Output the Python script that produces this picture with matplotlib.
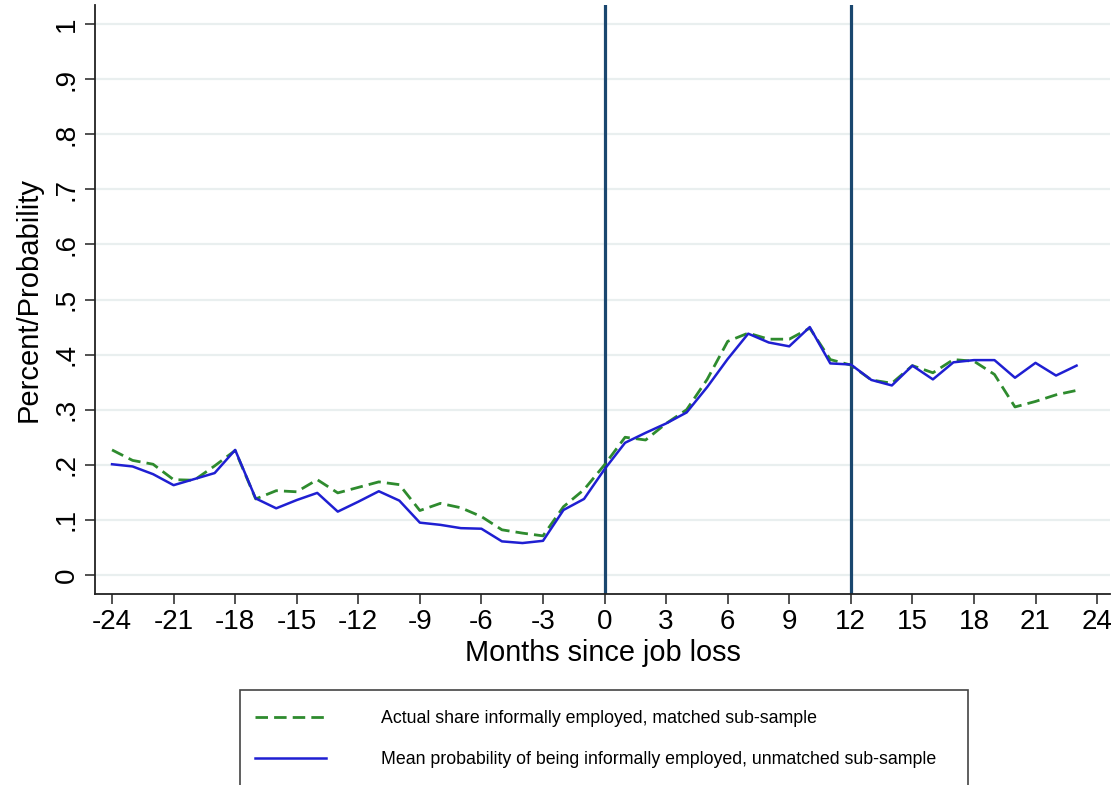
import matplotlib
matplotlib.use('Agg')
import matplotlib.pyplot as plt
from matplotlib.patches import Rectangle

plt.rcParams['font.family'] = ['Liberation Sans', 'DejaVu Sans']

months = list(range(-24, 24))

# actual share informally employed, matched sub-sample
actual_share = [0.227, 0.208, 0.201, 0.173, 0.172, 0.198, 0.226, 0.138,
                0.153, 0.151, 0.173, 0.149, 0.159, 0.169, 0.164, 0.117,
                0.130, 0.122, 0.106, 0.082, 0.076, 0.071, 0.124, 0.155,
                0.200, 0.250, 0.245, 0.275, 0.300, 0.355, 0.424, 0.439,
                0.428, 0.428, 0.448, 0.391, 0.381, 0.354, 0.348, 0.380,
                0.367, 0.391, 0.388, 0.364, 0.305, 0.315, 0.327, 0.335]

# mean predicted probability, unmatched sub-sample
mean_prob = [0.201, 0.197, 0.183, 0.163, 0.174, 0.185, 0.227, 0.139,
             0.121, 0.136, 0.149, 0.115, 0.133, 0.152, 0.135, 0.095,
             0.091, 0.085, 0.084, 0.061, 0.058, 0.062, 0.118, 0.138,
             0.192, 0.240, 0.258, 0.275, 0.295, 0.341, 0.392, 0.438,
             0.422, 0.415, 0.450, 0.384, 0.382, 0.354, 0.344, 0.380,
             0.355, 0.386, 0.390, 0.390, 0.358, 0.385, 0.362, 0.380]

vlines = [0, 12]
xticks = list(range(-24, 25, 3))
yticks = [i / 10 for i in range(11)]
ylabels = ['0', '.1', '.2', '.3', '.4', '.5', '.6', '.7', '.8', '.9', '1']

label_green = 'Actual share informally employed, matched sub-sample'
label_blue = 'Mean probability of being informally employed, unmatched sub-sample'

fig = plt.figure(figsize=(11.17, 7.85), dpi=100)
ax = fig.add_axes([95 / 1117, 1 - 594 / 785, (1110 - 95) / 1117, (594 - 5) / 785])

for y in yticks:
    ax.axhline(y, color='#e9efef', lw=1.6, zorder=0)
for v in vlines:
    ax.axvline(v, color='#1a476f', lw=2.3, zorder=1)

g, = ax.plot(months, actual_share, color='#2e8b2e', lw=2.0, dashes=(4.5, 2.2), zorder=2)
b, = ax.plot(months, mean_prob, color='#1f1fd2', lw=1.8, zorder=3)

ax.set_xlim(-24.83, 24.63)
ax.set_ylim(-0.0345, 1.0345)

ax.set_xticks(xticks)
ax.set_xticklabels([str(t) for t in xticks])
ax.set_yticks(yticks)
ax.set_yticklabels(ylabels, rotation=90, va='center')
ax.tick_params(axis='both', labelsize=20, length=7, width=1.2, color='#333333', pad=4)

for s in ['top', 'right']:
    ax.spines[s].set_visible(False)
for s in ['left', 'bottom']:
    ax.spines[s].set_linewidth(1.3)
    ax.spines[s].set_color('#222222')

ax.set_xlabel('Months since job loss', fontsize=20.8, labelpad=3)
ax.set_ylabel('Percent/Probability', fontsize=21, labelpad=8)

fig.patches.append(Rectangle((240 / 1117, -0.01), 728 / 1117, 1 - 690 / 785 + 0.01,
                             transform=fig.transFigure, fill=False,
                             edgecolor='#444444', lw=1.2))
fig.legend([g, b], [label_green, label_blue], loc='center left',
           bbox_to_anchor=(255 / 1117, 1 - 739 / 785), frameon=False,
           fontsize=12.75, handlelength=4.0, handletextpad=3.1, labelspacing=1.35,
           borderpad=0, borderaxespad=0)

fig.savefig('out.png', dpi=100)
